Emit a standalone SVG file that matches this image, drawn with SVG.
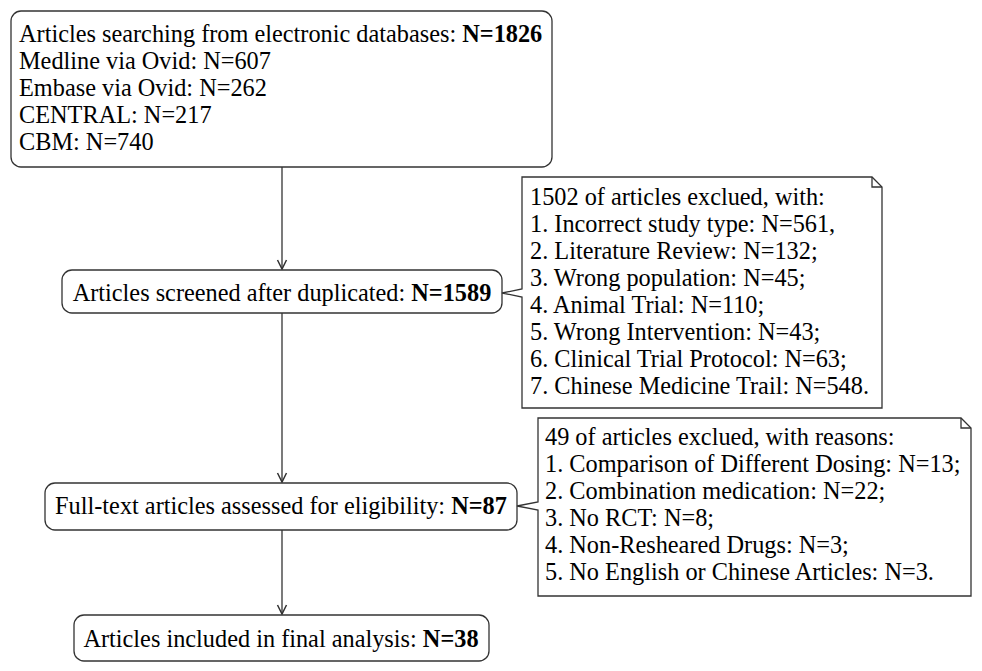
<svg xmlns="http://www.w3.org/2000/svg" width="982" height="671" viewBox="0 0 982 671">
<style>
text{font-family:"Liberation Serif","Times New Roman",serif;font-size:24.3px;fill:#000}
.b{font-weight:bold}
.box{fill:#fff;stroke:#333;stroke-width:1.3}
.note{fill:#fff;stroke:#333;stroke-width:1.3;stroke-linejoin:miter}
.edge{fill:none;stroke:#333;stroke-width:1.3}
.c{text-anchor:middle}
</style>
<defs>
<marker id="arr" markerWidth="12" markerHeight="12" refX="10" refY="6" orient="auto" markerUnits="userSpaceOnUse" viewBox="0 0 12 12">
<path d="M1,1.5 L10,6 L1,10.5" fill="none" stroke="#333" stroke-width="1.5"/>
</marker>
</defs>
<rect width="982" height="671" fill="#fff"/>
<g id="connectors">
<line class="edge" x1="282" y1="167" x2="282" y2="269" marker-end="url(#arr)"/>
<line class="edge" x1="282" y1="313" x2="282" y2="482" marker-end="url(#arr)"/>
<line class="edge" x1="282" y1="530" x2="282" y2="614" marker-end="url(#arr)"/>
</g>
<g id="n1">
<rect class="box" x="11" y="11" width="541" height="156" rx="10"/>
<text x="19" y="42">Articles searching from electronic databases: <tspan class="b">N=1826</tspan></text>
<text x="19" y="69">Medline via Ovid: N=607</text>
<text x="19" y="96">Embase via Ovid: N=262</text>
<text x="19" y="123">CENTRAL: N=217</text>
<text x="19" y="150">CBM: N=740</text>
</g>
<g id="n2">
<rect class="box" x="62" y="270" width="440" height="43" rx="10"/>
<text class="c" x="282" y="301">Articles screened after duplicated: <tspan class="b">N=1589</tspan></text>
</g>
<g id="note1">
<path class="note" d="M522,177 L872,177 L882,187 L882,408 L522,408 L522,297 L502,293 L522,289 Z"/>
<path class="edge" d="M872,177 L872,187 L882,187"/>
<text x="530" y="205">1502 of articles exclued, with:</text>
<text x="530" y="232">1. Incorrect study type: N=561,</text>
<text x="530" y="259">2. Literature Review: N=132;</text>
<text x="530" y="286">3. Wrong population: N=45;</text>
<text x="530" y="313">4. Animal Trial: N=110;</text>
<text x="530" y="340">5. Wrong Intervention: N=43;</text>
<text x="530" y="367">6. Clinical Trial Protocol: N=63;</text>
<text x="530" y="394">7. Chinese Medicine Trail: N=548.</text>
</g>
<g id="n3">
<rect class="box" x="45" y="483" width="472" height="47" rx="10"/>
<text class="c" x="281" y="514">Full-text articles assessed for eligibility: <tspan class="b">N=87</tspan></text>
</g>
<g id="note2">
<path class="note" d="M538,418 L961,418 L971,428 L971,596 L538,596 L538,510 L517,506 L538,502 Z"/>
<path class="edge" d="M961,418 L961,428 L971,428"/>
<text x="545" y="445">49 of articles exclued, with reasons:</text>
<text x="545" y="472">1. Comparison of Different Dosing: N=13;</text>
<text x="545" y="499">2. Combination medication: N=22;</text>
<text x="545" y="526">3. No RCT: N=8;</text>
<text x="545" y="553">4. Non-Resheared Drugs: N=3;</text>
<text x="545" y="580">5. No English or Chinese Articles: N=3.</text>
</g>
<g id="n4">
<rect class="box" x="74" y="615" width="415" height="46" rx="10"/>
<text class="c" x="281" y="647">Articles included in final analysis: <tspan class="b">N=38</tspan></text>
</g>
</svg>
